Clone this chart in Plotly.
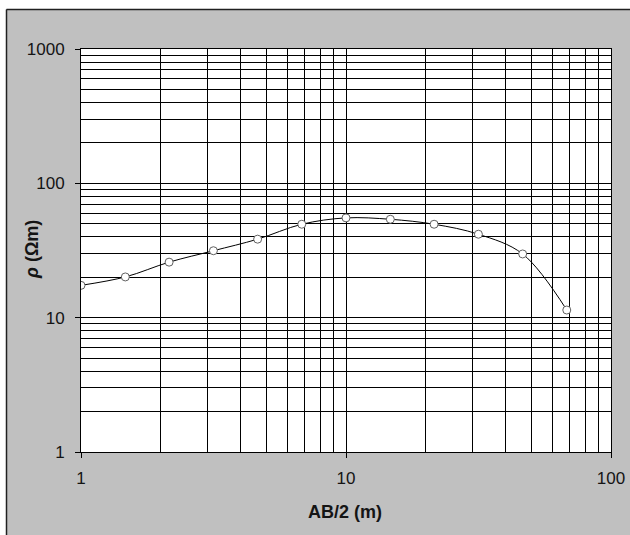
import plotly.graph_objects as go

# Vertical electrical sounding: half electrode spacing vs apparent resistivity
ab2 = [1, 1.47, 2.15, 3.16, 4.64, 6.81, 10, 14.7, 21.5, 31.6, 46.4, 68.1]
rho = [17.4, 20.1, 25.9, 31.5, 38.4, 49.6, 55.3, 54.0, 49.6, 41.8, 29.8, 11.4]

x_ticks = [1, 10, 100]
x_tick_text = ["1", "10", "100"]
y_ticks = [1, 10, 100, 1000]
y_tick_text = ["1", "10", "100", "1000"]

x_minor = [m * 10 ** d for d in range(0, 2) for m in range(2, 10)]
y_minor = [m * 10 ** d for d in range(0, 3) for m in range(2, 10)]

W, H = 630, 535
L, R, T, B = 81, 19, 49, 83
PW, PH = W - L - R, H - T - B


def px(x):
    return (x - L) / PW


def py(y):
    return (H - B - y) / PH


FONT = "Liberation Sans, Arial, sans-serif"
BG = "#C0C0C0"
TEXT = "#141414"

fig = go.Figure()
fig.add_trace(go.Scatter(
    x=ab2, y=rho, mode="lines+markers",
    line=dict(color="black", width=1, shape="spline", smoothing=1),
    marker=dict(symbol="circle", size=8, color="white",
                line=dict(color="#606060", width=1)),
    showlegend=False, hoverinfo="x+y",
))

axis_common = dict(
    type="log", showgrid=True, gridcolor="black", gridwidth=1,
    showline=True, linecolor="black", linewidth=1, mirror=True,
    ticks="outside", ticklen=5, tickcolor="black", tickwidth=1,
    tickfont=dict(family=FONT, size=17, color=TEXT),
    zeroline=False, tickmode="array",
)

fig.update_xaxes(
    **axis_common, range=[0, 2], tickvals=x_ticks, ticktext=x_tick_text,
    ticklabelstandoff=6,
    minor=dict(tickvals=x_minor, showgrid=True, gridcolor="black",
               gridwidth=1, ticks=""),
)
fig.update_yaxes(
    **axis_common, range=[0, 3], tickvals=y_ticks, ticktext=y_tick_text,
    ticklabelstandoff=7,
    minor=dict(tickvals=y_minor, showgrid=True, gridcolor="black",
               gridwidth=1, ticks=""),
)

shapes = [
    # white strip along the top and left edges, then the chart frame
    dict(type="rect", xref="paper", yref="paper", layer="above",
         x0=px(-10), x1=px(W + 10), y0=py(9), y1=py(-10),
         fillcolor="white", line=dict(width=0)),
    dict(type="rect", xref="paper", yref="paper", layer="above",
         x0=px(-10), x1=px(6), y0=py(H + 10), y1=py(-10),
         fillcolor="white", line=dict(width=0)),
    dict(type="line", xref="paper", yref="paper", layer="above",
         x0=px(6.5), x1=px(W + 10), y0=py(9.5), y1=py(9.5),
         line=dict(color="#202020", width=1.5)),
    dict(type="line", xref="paper", yref="paper", layer="above",
         x0=px(6.5), x1=px(6.5), y0=py(9.5), y1=py(H + 10),
         line=dict(color="#202020", width=1.5)),
]

annotations = [
    dict(text="<b>AB/2 (m)</b>", xref="paper", yref="paper",
         x=px(345), y=py(512), xanchor="center", yanchor="middle",
         showarrow=False, font=dict(family=FONT, size=18, color=TEXT)),
    dict(text="<b><i>ρ</i> (Ωm)</b>", xref="paper", yref="paper",
         x=px(32), y=py(250), xanchor="center", yanchor="middle",
         textangle=-90, showarrow=False,
         font=dict(family=FONT, size=18, color=TEXT)),
]

fig.update_layout(
    width=W, height=H,
    margin=dict(l=L, r=R, t=T, b=B, autoexpand=False),
    paper_bgcolor=BG, plot_bgcolor="white",
    shapes=shapes, annotations=annotations,
    font=dict(family=FONT, size=17, color=TEXT),
)

fig.write_html("out.html")
